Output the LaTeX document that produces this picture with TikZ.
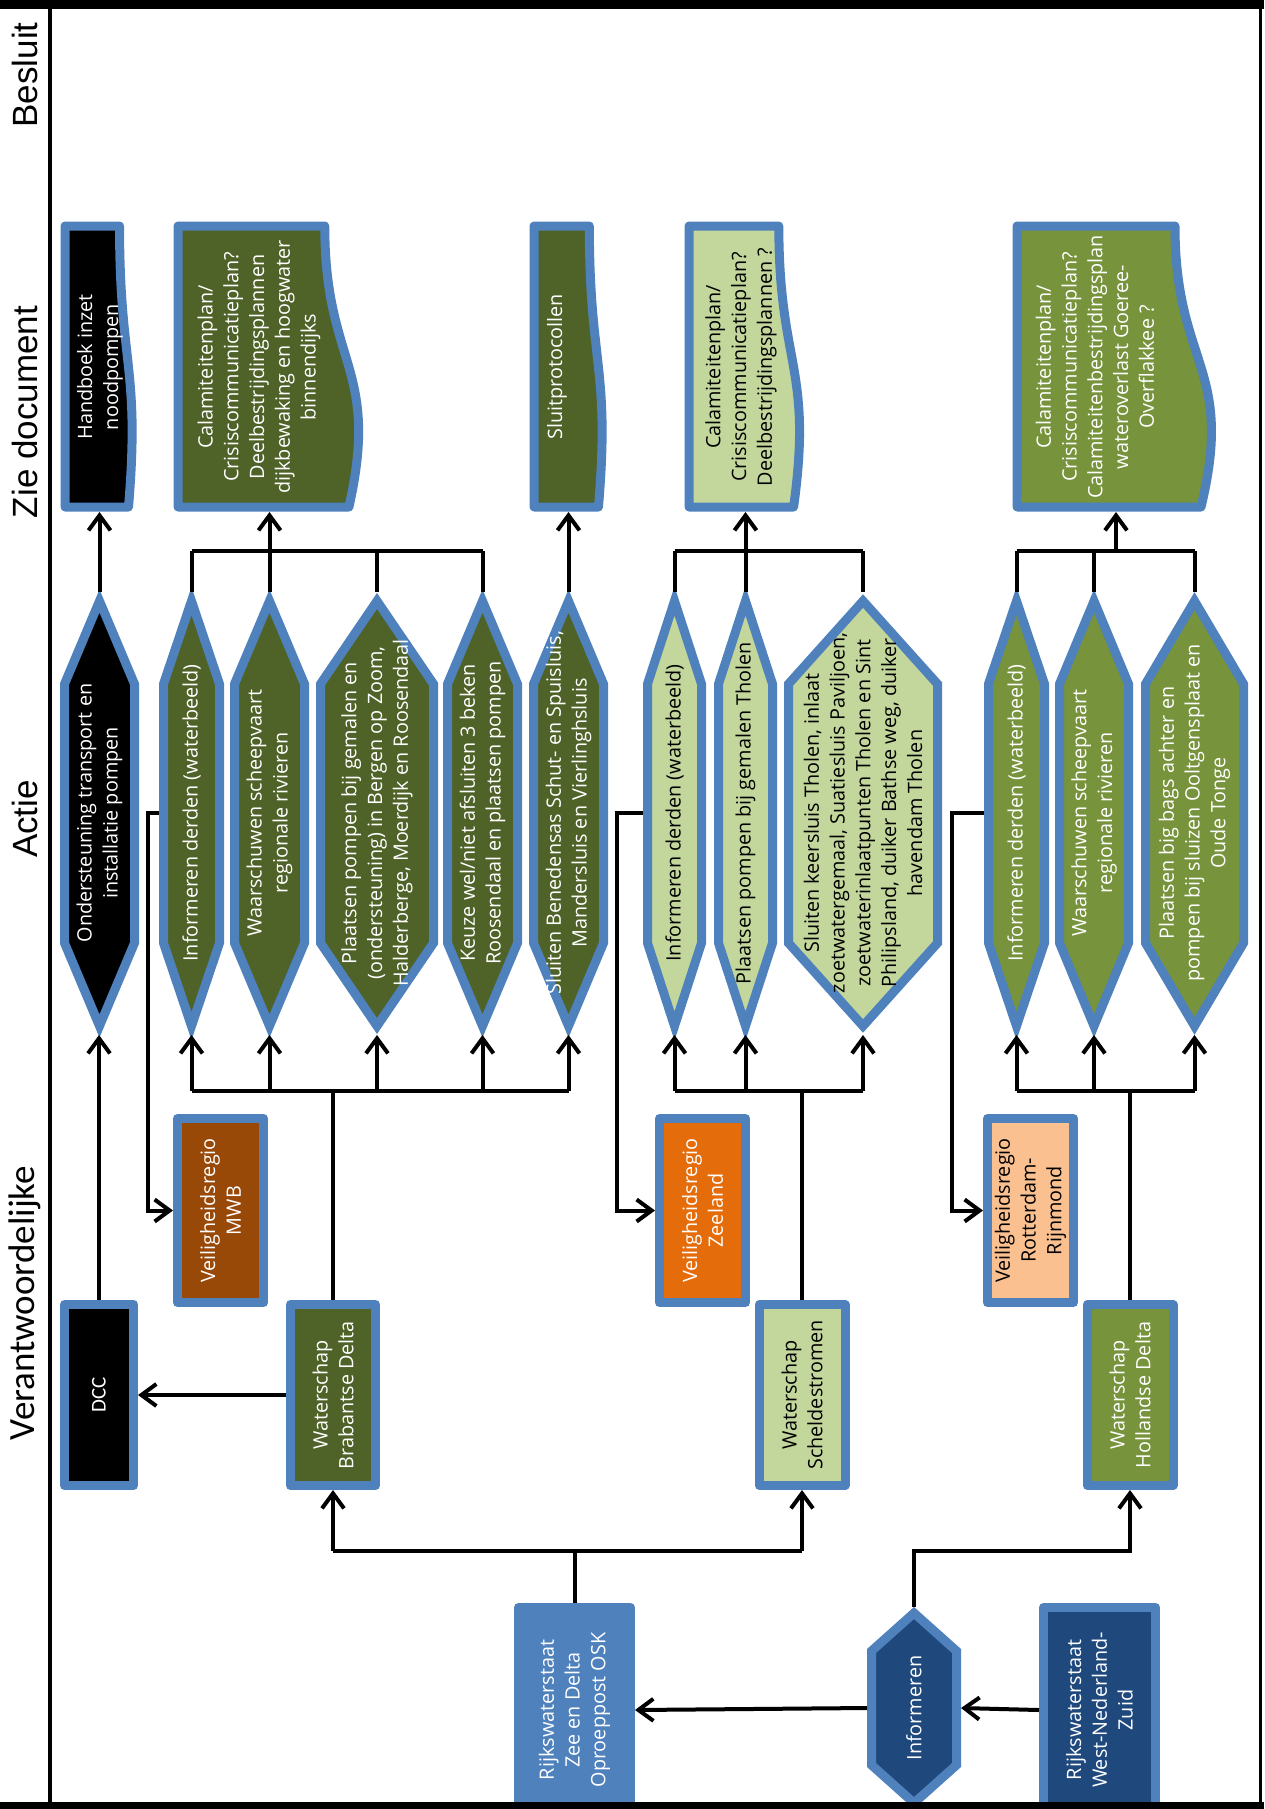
\documentclass[tikz,border=0pt]{standalone}
\usepackage{fontspec}
\setmainfont{Open Sans}
\newfontfamily\hdrfont{Liberation Sans}
\newfontfamily\calfont{Carlito}
\usetikzlibrary{arrows.meta}
\definecolor{ol}{HTML}{4F81BD}
\definecolor{dkol}{HTML}{4F6228}
\definecolor{ltgr}{HTML}{C3D69B}
\definecolor{olgr}{HTML}{77933C}
\definecolor{brn}{HTML}{984807}
\definecolor{org}{HTML}{E46C0A}
\definecolor{pch}{HTML}{FAC090}
\definecolor{dkbl}{HTML}{1F497D}
\tikzset{
 shp/.style={draw=ol, line width=4.5pt, line join=round},
 hexs/.style={draw=ol, line width=4.5pt, line join=miter},
 txt/.style={rotate=90, align=center, inner sep=0pt, font=\fontsize{9.9}{12.9}\selectfont},
 rbox/.style={shp, rotate=90, align=center, inner sep=0pt, font=\fontsize{9.9}{12.9}\selectfont},
 ln/.style={line width=2pt},
 arr/.style={line width=2pt, -{Straight Barb[length=7.5pt,width=11pt]}},
 hdr/.style={rotate=90, inner sep=0pt, font=\hdrfont\fontsize{17.5}{21}\selectfont},
}
\newcommand\hexa[6]{%
 \pgfmathsetmacro\hxl{#2+4.5}%
 \pgfmathsetmacro\hxr{#3-4.5}%
 \pgfmathsetmacro\hxc{(#2+#3)/2}%
 \draw[hexs, fill=#4] (\hxc,601) -- (\hxr,684) -- (\hxr,943) -- (\hxc,1026) -- (\hxl,943) -- (\hxl,684) -- cycle;
 \node[txt, text=#5] (#1) at (\hxc,813) {#6};
 \coordinate (#1-t) at (\hxc,592);
 \coordinate (#1-b) at (\hxc,1035);
 \coordinate (#1-l) at (#2,813);
}
\newcommand\docu[8]{%
 \pgfmathsetmacro\dxa{#2+0.802*#3}%
 \pgfmathsetmacro\dxb{#2+1.107*#3}%
 \pgfmathsetmacro\dxc{#2+0.934*#3}%
 \draw[shp, fill=#4] (#2,507) -- (#2,226) -- (\dxa,226) .. controls (\dxa,366.5) and (\dxb,366.5) .. (\dxc,507) -- cycle;
 \node[txt, text=#5] (#1) at (#6,367) {#8};
 \coordinate (#1-b) at (#7,512);
}
\begin{document}
\begin{tikzpicture}[x=0.5pt,y=-0.5pt]
\useasboundingbox (0,0) rectangle (1264,1809);
\fill[white] (0,0) rectangle (1264,1809);

% headers
\node[hdr] (hB) at (25,75) {Besluit};
\node[hdr] (hZ) at (25,412) {Zie document};
\node[hdr] (hA) at (25,819) {Actie};
\node[hdr, font=\calfont\fontsize{18.5}{22}\selectfont] (hV) at (25,1303) {Verantwoordelijke};

% documents
\docu{d1}{65}{68}{black}{white}{100}{99.5}{Handboek inzet\\noodpompen}
\docu{d2}{178}{183}{dkol}{white}{259}{269.5}{Calamiteitenplan/\\Crisiscommunicatieplan?\\Deelbestrijdingsplannen\\dijkbewaking en hoogwater\\binnendijks}
\docu{d3}{534}{69}{dkol}{white}{557}{568.5}{Sluitprotocollen}
\docu{d4}{689}{112}{ltgr}{black}{741}{745.5}{Calamiteitenplan/\\Crisiscommunicatieplan?\\Deelbestrijdingsplannen ?}
\docu{d5}{1017}{197}{olgr}{white}{1095}{1116}{Calamiteitenplan/\\Crisiscommunicatieplan?\\Calamiteitenbestrijdingsplan\\wateroverlast Goeree-\\Overflakkee ?}

% actions
\hexa{a1}{60}{139}{black}{white}{Ondersteuning transport en\\installatie pompen}
\hexa{a2}{159}{224}{dkol}{white}{Informeren derden (waterbeeld)}
\hexa{a3}{230}{309}{dkol}{white}{Waarschuwen scheepvaart\\regionale rivieren}
\hexa{a4}{316}{438}{dkol}{white}{Plaatsen pompen bij gemalen en\\(ondersteuning) in Bergen op Zoom,\\Halderberge, Moerdijk en Roosendaal}
\hexa{a5}{443}{522}{dkol}{white}{Keuze wel/niet afsluiten 3 beken\\Roosendaal en plaatsen pompen}
\hexa{a6}{529}{608}{dkol}{white}{Sluiten Benedensas Schut- en Spuisluis,\\Mandersluis en Vierlinghsluis}
\hexa{b1}{643}{706}{ltgr}{black}{Informeren derden (waterbeeld)}
\hexa{b2}{714}{777}{ltgr}{black}{Plaatsen pompen bij gemalen Tholen}
\hexa{b3}{784}{942}{ltgr}{black}{Sluiten keersluis Tholen, inlaat\\zoetwatergemaal, Suatiesluis Paviljoen,\\zoetwaterinlaatpunten Tholen en Sint\\Philipsland, duiker Bathse weg, duiker\\havendam Tholen}
\hexa{c1}{984}{1049}{olgr}{white}{Informeren derden (waterbeeld)}
\hexa{c2}{1055}{1133}{olgr}{white}{Waarschuwen scheepvaart\\regionale rivieren}
\hexa{c3}{1141}{1248}{olgr}{white}{Plaatsen big bags achter en\\pompen bij sluizen Ooltgensplaat en\\Oude Tonge}

% responsible
\node[rbox, fill=black, text=white, font=\calfont\fontsize{10.5}{12}\selectfont, minimum width=90.5pt, minimum height=34.5pt] (dcc) at (99,1395) {DCC};
\node[rbox, fill=brn, text=white, minimum width=92pt, minimum height=43pt] (vrm) at (220.5,1210.5) {Veiligheidsregio\\MWB};
\node[rbox, fill=dkol, text=white, minimum width=90.5pt, minimum height=42.5pt] (wbd) at (333,1395) {Waterschap\\Brabantse Delta};
\node[rbox, fill=org, text=white, minimum width=92pt, minimum height=43pt] (vrz) at (702.5,1210.5) {Veiligheidsregio\\Zeeland};
\node[rbox, fill=ltgr, text=black, minimum width=90.5pt, minimum height=43pt] (ws) at (802,1395) {Waterschap\\Scheldestromen};
\node[rbox, fill=pch, text=black, minimum width=92pt, minimum height=43pt] (vrr) at (1030.5,1210.5) {Veiligheidsregio\\Rotterdam-\\Rijnmond};
\node[rbox, fill=olgr, text=white, minimum width=90.5pt, minimum height=43pt] (whd) at (1130,1395) {Waterschap\\Hollandse Delta};

% bottom
\node[rbox, fill=ol, text=white, minimum width=102.5pt, minimum height=56pt] (rwsz) at (574.5,1710) {Rijkswaterstaat\\Zee en Delta\\Oproeppost OSK};
\node[rbox, fill=dkbl, text=white, minimum width=102.5pt, minimum height=56pt] (rwsw) at (1099.5,1710) {Rijkswaterstaat\\West-Nederland-\\Zuid};
\draw[hexs, fill=dkbl] (914,1613) -- (956.5,1651) -- (956.5,1765) -- (914,1803) -- (871.5,1765) -- (871.5,1651) -- cycle;
\node[txt, text=white] (inf) at (914,1708) {Informeren};
\coordinate (inf-t) at (914,1607);
\coordinate (inf-l) at (867,1708);
\coordinate (inf-r) at (961,1708);

% buses
\coordinate (busT) at (0,551);
\coordinate (busB) at (0,1091);
\coordinate (busR) at (0,1551);

% Brabant
\draw[arr] (dcc.east) -- (dcc.east |- a1-b);
\draw[arr] (a1-t) -- (a1-t |- d1-b);
\draw[arr] (wbd.north) -- (dcc.south);
\draw[ln] (wbd.east) -- (wbd.east |- busB);
\draw[ln] (a2-b |- busB) -- (a6-b |- busB);
\foreach \h in {a2,a3,a4,a5,a6} \draw[arr] (\h-b |- busB) -- (\h-b);
\draw[ln] (a2-t |- busT) -- (a5-t |- busT);
\foreach \h in {a2,a4,a5} \draw[ln] (\h-t) -- (\h-t |- busT);
\draw[arr] (a3-t) -- (d2-b);
\draw[arr] (a6-t) -- (d3-b);
\draw[arr] (a2-l) -- ++(-11,0) |- (vrm.north);

% Zeeland
\draw[ln] (ws.east) -- (ws.east |- busB);
\draw[ln] (b1-b |- busB) -- (b3-b |- busB);
\foreach \h in {b1,b2,b3} \draw[arr] (\h-b |- busB) -- (\h-b);
\draw[ln] (b1-t |- busT) -- (b3-t |- busT);
\foreach \h in {b1,b3} \draw[ln] (\h-t) -- (\h-t |- busT);
\draw[arr] (b2-t) -- (d4-b);
\draw[arr] (b1-l) -- ++(-26,0) |- (vrz.north);

% Holland
\draw[ln] (whd.east) -- (whd.east |- busB);
\draw[ln] (c1-b |- busB) -- (c3-b |- busB);
\foreach \h in {c1,c2,c3} \draw[arr] (\h-b |- busB) -- (\h-b);
\draw[ln] (c1-t |- busT) -- (c3-t |- busT);
\foreach \h in {c1,c2,c3} \draw[ln] (\h-t) -- (\h-t |- busT);
\draw[arr] (d5-b |- busT) -- (d5-b);
\draw[arr] (c1-l) -- ++(-32,0) |- (vrr.north);

% bottom connections
\draw[ln] (rwsz.east) -- (rwsz.east |- busR);
\draw[ln] (wbd.west |- busR) -- (ws.west |- busR);
\draw[arr] (wbd.west |- busR) -- (wbd.west);
\draw[arr] (ws.west |- busR) -- (ws.west);
\draw[arr] (inf-t) |- (whd.west |- busR) -- (whd.west);
\draw[arr] (inf-l) -- (rwsz.south);
\draw[arr] (rwsw.north) -- (inf-r);

% frame
\fill[black] (0,0) rectangle (1264,9);
\fill[black] (0,1802) rectangle (1264,1809);
\draw[line width=2pt] (50,9) -- (50,1802);
\draw[line width=1.5pt] (1260,9) -- (1260,1802);
\end{tikzpicture}
\end{document}
